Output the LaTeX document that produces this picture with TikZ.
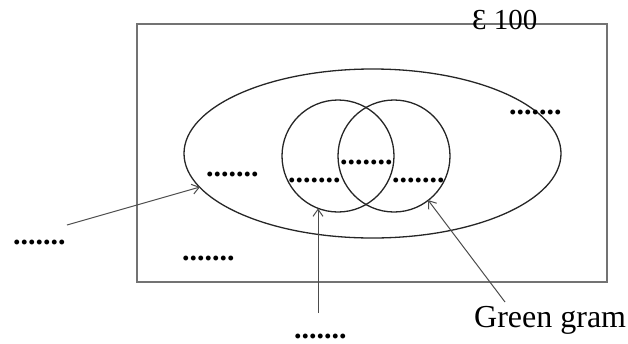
\documentclass[tikz,border=0pt]{standalone}
\usepackage{fontspec}
\setmainfont{Liberation Serif}
\usetikzlibrary{arrows.meta}
\begin{document}
\begin{tikzpicture}[x=1pt,y=-1pt,
  frame/.style={draw=black!55,line width=1.8pt},
  setline/.style={draw=black!85,line width=1.3pt},
  dotlbl/.style={inner sep=0pt,anchor=base west,font=\fontsize{30}{30}\selectfont\bfseries},
  lbl/.style={inner sep=0pt,anchor=base west,font=\fontsize{29}{29}\selectfont},
  biglbl/.style={inner sep=0pt,anchor=base west,font=\fontsize{32}{32}\selectfont},
  pointer/.style={draw=black!70,line width=1pt,-{Straight Barb[length=7pt,width=10pt]}}]
\useasboundingbox (0,0) rectangle (628,343);
% universal set
\draw[frame] (137,24) rectangle (607,282);
\node[lbl] (univ) at (472,29) {Ɛ 100};
% ellipse and circles
\draw[setline] (372.5,153.5) ellipse [x radius=188.5pt, y radius=84.5pt];
\draw[setline] (338,156) circle [radius=56pt];
\draw[setline] (394,156) circle [radius=56pt];
% dotted labels
\node[dotlbl] (d1) at (509,114) {.......};
\node[dotlbl] (d2) at (206,176) {.......};
\node[dotlbl] (d3) at (288,182) {.......};
\node[dotlbl] (d4) at (340,164) {.......};
\node[dotlbl] (d5) at (392,182) {.......};
\node[dotlbl] (d6) at (182,260) {.......};
\node[dotlbl] (d7) at (13,244) {.......};
\node[dotlbl] (d8) at (294,338) {.......};
\node[biglbl] (gg) at (474,327) {Green gram};
% arrows
\coordinate (a1s) at (67,225);
\coordinate (a1e) at (200,187);
\coordinate (a2s) at (318,313);
\coordinate (a2e) at (318,208.5);
\coordinate (a3s) at (505,302);
\coordinate (a3e) at (428,200);
\draw[pointer] (a1s) -- (a1e);
\draw[pointer] (a2s) -- (a2e);
\draw[pointer] (a3s) -- (a3e);
\end{tikzpicture}
\end{document}
